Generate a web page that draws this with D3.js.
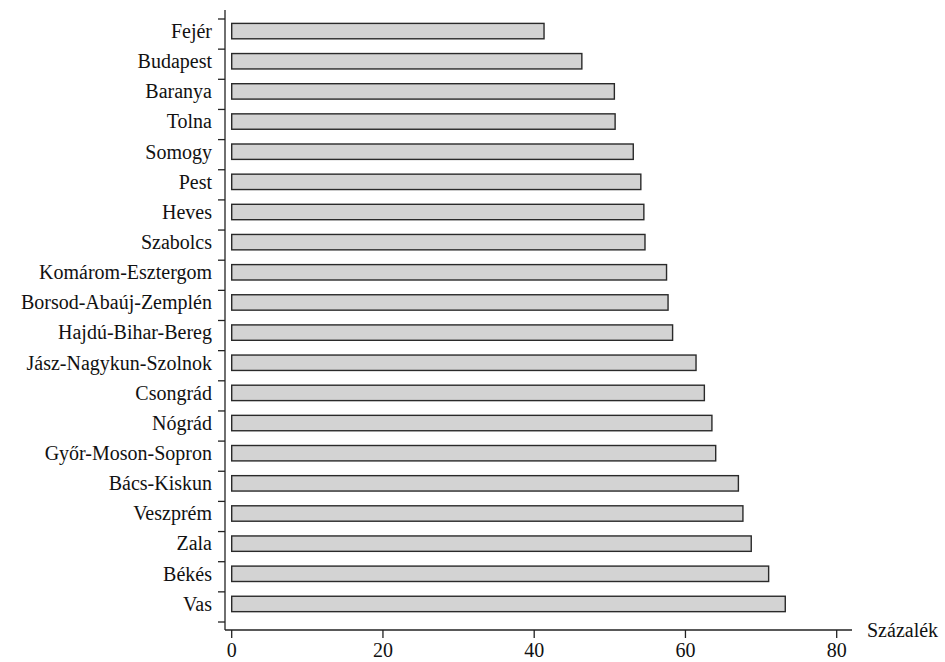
<!DOCTYPE html>
<html>
<head>
<meta charset="utf-8">
<script src="https://cdn.jsdelivr.net/npm/d3@7"></script>
<style>
  body { margin: 0; background: #fff; }
</style>
</head>
<body>
<div id="chart"></div>
<script>
// megyék, felülről lefelé
var counties = ["Fejér", "Budapest", "Baranya", "Tolna", "Somogy", "Pest", "Heves", "Szabolcs",
  "Komárom-Esztergom", "Borsod-Abaúj-Zemplén", "Hajdú-Bihar-Bereg", "Jász-Nagykun-Szolnok",
  "Csongrád", "Nógrád", "Győr-Moson-Sopron", "Bács-Kiskun", "Veszprém", "Zala", "Békés", "Vas"];
var values = [41.3, 46.3, 50.6, 50.7, 53.1, 54.1, 54.5, 54.65, 57.5, 57.7, 58.3, 61.4,
  62.5, 63.5, 64.0, 67.0, 67.6, 68.7, 71.0, 73.2];
var xTicks = [0, 20, 40, 60, 80];
var xTitle = "Százalék";

var width = 945, height = 662;
var axisX = 225, axisY = 630;
var font = "'Liberation Serif', 'DejaVu Serif', 'Times New Roman', serif";
var fontSize = "20px";

var svg = d3.select("#chart").append("svg")
    .attr("width", width)
    .attr("height", height)
    .style("font-family", font);

var x = d3.scaleLinear()
    .domain([0, 80])
    .range([231.7, 836.7]);

var y = d3.scaleBand()
    .domain(counties)
    .range([19, 622])
    .padding(0);

var barH = 15.4;
var barOff = 4.4;

// bars
svg.append("g")
    .selectAll("rect")
    .data(values)
    .enter().append("rect")
    .attr("x", x(0))
    .attr("y", function(d, i) { return y(counties[i]) + barOff; })
    .attr("width", function(d) { return x(d) - x(0); })
    .attr("height", barH)
    .style("fill", "#d3d3d3")
    .style("stroke", "#2a2a2a")
    .style("stroke-width", 1.4);

// y axis line + ticks at the category boundaries
svg.append("line")
    .attr("x1", axisX).attr("x2", axisX)
    .attr("y1", 10).attr("y2", axisY)
    .style("stroke", "#222").style("stroke-width", 1.3);

var bounds = counties.map(function(c) { return y(c); }).concat([y.range()[1]]);
svg.append("g")
    .selectAll("line")
    .data(bounds)
    .enter().append("line")
    .attr("x1", axisX - 7).attr("x2", axisX)
    .attr("y1", function(d) { return d; })
    .attr("y2", function(d) { return d; })
    .style("stroke", "#222").style("stroke-width", 1.3);

// county labels
svg.append("g")
    .selectAll("text")
    .data(counties)
    .enter().append("text")
    .attr("x", 212)
    .attr("y", function(d) { return y(d) + barOff + barH / 2 + 6.8; })
    .attr("text-anchor", "end")
    .attr("font-family", font)
    .style("font-size", fontSize)
    .style("fill", "#111")
    .text(function(d) { return d; });

// x axis
svg.append("line")
    .attr("x1", axisX).attr("x2", 852)
    .attr("y1", axisY).attr("y2", axisY)
    .style("stroke", "#222").style("stroke-width", 1.3);

var xg = svg.append("g");
xg.selectAll("line")
    .data(xTicks)
    .enter().append("line")
    .attr("x1", function(d) { return x(d); })
    .attr("x2", function(d) { return x(d); })
    .attr("y1", axisY).attr("y2", axisY + 8)
    .style("stroke", "#222").style("stroke-width", 1.3);
xg.selectAll("text")
    .data(xTicks)
    .enter().append("text")
    .attr("x", function(d) { return x(d); })
    .attr("y", 657)
    .attr("text-anchor", "middle")
    .attr("font-family", font)
    .style("font-size", fontSize)
    .style("fill", "#111")
    .text(function(d) { return d; });

svg.append("text")
    .attr("x", 867)
    .attr("y", 637)
    .attr("font-family", font)
    .style("font-size", fontSize)
    .style("fill", "#111")
    .text(xTitle);
</script>
</body>
</html>
